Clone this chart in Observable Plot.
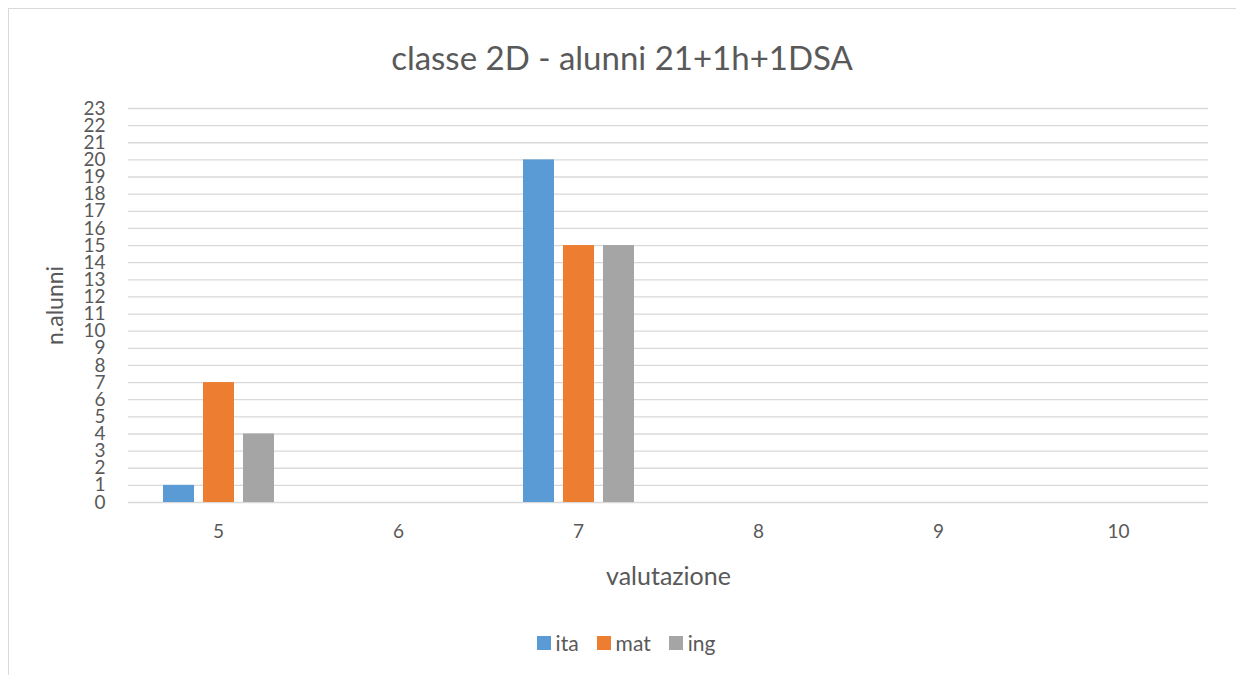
<!DOCTYPE html>
<html><head><meta charset="utf-8">
<script src="https://cdn.jsdelivr.net/npm/d3@7"></script>
<script src="https://cdn.jsdelivr.net/npm/@observablehq/plot@0.6"></script>
<style>
body{margin:0;background:#fff;font-family:Lato,sans-serif;width:1236px;height:675px;overflow:hidden;position:relative;}
#frame{position:absolute;left:8px;top:8px;width:1240px;height:700px;border:1px solid #d9d9d9;box-sizing:border-box;}
#title{position:absolute;left:0;top:41px;width:1244px;text-align:center;font-size:33px;color:#595959;line-height:1;}
#chart{position:absolute;left:0;top:0;}
#legend{position:absolute;left:0;top:630px;width:1252px;display:flex;justify-content:center;align-items:center;font-size:21px;color:#595959;}
#legend .item{display:flex;align-items:center;margin:0 9px;}
#legend .sw{width:14px;height:14px;margin-right:5px;}
[aria-label="y-axis label"]{font-size:23px;}
[aria-label="fx-axis label"]{font-size:25px;}
</style>
</head><body>
<div id="frame"></div>
<div id="chart"></div>
<div id="title">classe 2D - alunni 21+1h+1DSA</div>
<div id="legend"></div>
<script>
const categories = ["5","6","7","8","9","10"];
const series = ["ita","mat","ing"];
const ita = [1,0,20,0,0,0];
const mat = [7,0,15,0,0,0];
const ing = [4,0,15,0,0,0];
const colors = ["#5b9bd5","#ed7d31","#a5a5a5"];
const yTicks = d3.range(0,24);

const values = {ita, mat, ing};
const data = categories.flatMap((c,i)=>series.map(s=>({cat:c, series:s, value:values[s][i]})));

const chart = Plot.plot({
  width:1236, height:600,
  marginLeft:128, marginRight:28, marginTop:108, marginBottom:98,
  style:{fontFamily:"Lato, sans-serif", fontSize:"19px", color:"#595959", background:"transparent", overflow:"visible"},
  fx:{domain:categories, padding:0},
  x:{domain:series, paddingInner:0.225, paddingOuter:0.8625, axis:null},
  y:{domain:[0,23]},
  color:{domain:series, range:colors},
  marks:[
    Plot.gridY(yTicks,{stroke:"#d9d9d9", strokeOpacity:1, strokeWidth:1.3}),
    Plot.barY(data,{fx:"cat", x:"series", y:"value", fill:"series"}),
    Plot.axisY(yTicks,{tickSize:0, tickPadding:23, label:"n.alunni", labelAnchor:"center", labelArrow:"none", labelOffset:82, fill:"#595959"}),
    Plot.axisFx({anchor:"bottom", tickSize:0, tickPadding:22, label:"valutazione", labelAnchor:"center", labelArrow:"none", labelOffset:82, fill:"#595959"})
  ]
});
document.getElementById("chart").appendChild(chart);

const legend = document.getElementById("legend");
series.forEach((s,i)=>{
  const it = document.createElement("div"); it.className="item";
  const sw = document.createElement("div"); sw.className="sw"; sw.style.background=colors[i];
  const tx = document.createElement("span"); tx.textContent=s;
  it.appendChild(sw); it.appendChild(tx); legend.appendChild(it);
});
</script>
</body></html>
